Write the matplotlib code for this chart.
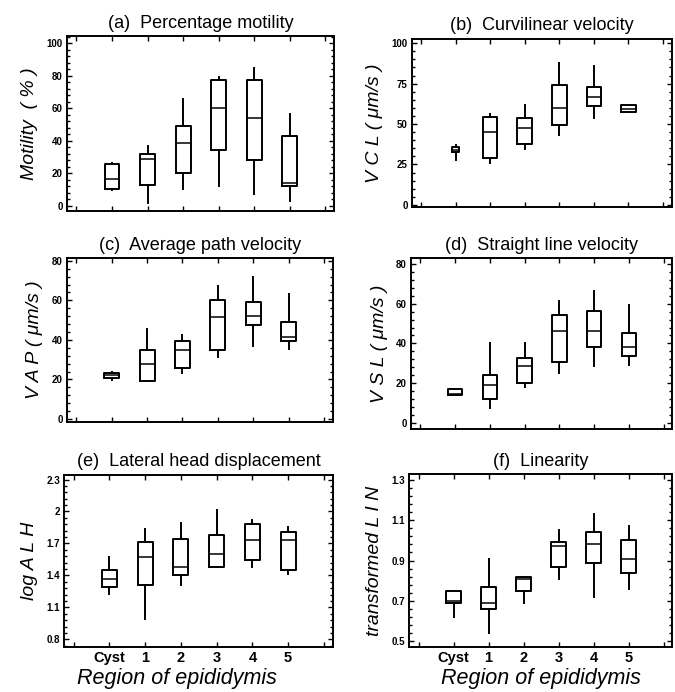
import matplotlib
matplotlib.use("Agg")
import matplotlib.pyplot as plt
from matplotlib.ticker import AutoMinorLocator

plt.rcParams['font.family'] = ['Liberation Sans', 'DejaVu Sans']

regions = ["Cyst", "1", "2", "3", "4", "5"]

# box values: whisker low, q1, median, q3, whisker high
mot_lo = [9.3, 1.4, 10.3, 12.2, 7.0, 3.0]
mot_q1 = [10.3, 12.4, 20.0, 34.4, 28.2, 11.8]
mot_med = [16.5, 28.7, 38.4, 60.0, 54.0, 13.8]
mot_q3 = [25.6, 32.0, 49.0, 77.5, 77.5, 42.7]
mot_hi = [26.0, 37.0, 66.0, 79.0, 85.0, 56.5]

vcl_lo = [27.7, 26.2, 34.6, 43.0, 54.0, 57.6]
vcl_q1 = [32.4, 29.0, 37.7, 49.4, 61.3, 57.6]
vcl_med = [34.2, 45.0, 47.3, 60.0, 66.8, 59.5]
vcl_q3 = [36.0, 54.5, 54.0, 74.2, 73.0, 62.0]
vcl_hi = [37.3, 56.4, 62.0, 87.5, 86.0, 62.0]

vap_lo = [19.8, 19.0, 23.1, 31.5, 37.1, 35.6]
vap_q1 = [20.8, 19.0, 26.0, 34.7, 47.5, 39.3]
vap_med = [22.0, 27.7, 35.1, 51.6, 52.1, 41.6]
vap_q3 = [23.1, 34.7, 39.3, 60.4, 59.4, 49.3]
vap_hi = [23.9, 45.4, 42.6, 67.3, 72.0, 63.4]

vsl_lo = [13.9, 7.3, 18.0, 25.1, 28.8, 28.9]
vsl_q1 = [13.9, 12.2, 20.2, 30.4, 38.3, 33.4]
vsl_med = [14.3, 19.2, 28.4, 46.1, 46.3, 38.3]
vsl_q3 = [16.9, 24.1, 32.4, 54.2, 56.2, 45.1]
vsl_hi = [16.9, 40.0, 40.0, 61.5, 66.4, 59.3]

alh_lo = [1.23, 0.99, 1.31, 1.48, 1.48, 1.41]
alh_q1 = [1.29, 1.31, 1.40, 1.48, 1.54, 1.45]
alh_med = [1.37, 1.57, 1.48, 1.60, 1.73, 1.73]
alh_q3 = [1.45, 1.71, 1.74, 1.78, 1.88, 1.81]
alh_hi = [1.57, 1.84, 1.89, 2.01, 1.92, 1.85]

lin_lo = [0.62, 0.54, 0.69, 0.81, 0.72, 0.76]
lin_q1 = [0.69, 0.66, 0.75, 0.87, 0.89, 0.84]
lin_med = [0.70, 0.69, 0.81, 0.97, 0.98, 0.91]
lin_q3 = [0.75, 0.77, 0.82, 0.99, 1.04, 1.00]
lin_hi = [0.75, 0.91, 0.82, 1.05, 1.13, 1.07]

# title, y label, ticks, tick labels, data, axes rect, (bottom, top) padding in tick steps
panels = [
    ("(a)  Percentage motility", "Motility  ( % )", [0, 20, 40, 60, 80, 100], ["0", "20", "40", "60", "80", "100"],
     (mot_lo, mot_q1, mot_med, mot_q3, mot_hi), [0.099, 0.695, 0.396, 0.253], (0.17, 0.23)),
    ("(b)  Curvilinear velocity", "V C L ( \u03bcm/s )", [0, 25, 50, 75, 100], ["0", "25", "50", "75", "100"],
     (vcl_lo, vcl_q1, vcl_med, vcl_q3, vcl_hi), [0.610, 0.701, 0.385, 0.243], (0.05, 0.11)),
    ("(c)  Average path velocity", "V A P ( \u03bcm/s )", [0, 20, 40, 60, 80], ["0", "20", "40", "60", "80"],
     (vap_lo, vap_q1, vap_med, vap_q3, vap_hi), [0.099, 0.390, 0.394, 0.237], (0.08, 0.07)),
    ("(d)  Straight line velocity", "V S L ( \u03bcm/s )", [0, 20, 40, 60, 80], ["0", "20", "40", "60", "80"],
     (vsl_lo, vsl_q1, vsl_med, vsl_q3, vsl_hi), [0.609, 0.380, 0.387, 0.247], (0.16, 0.15)),
    ("(e)  Lateral head displacement", "log A L H", [0.8, 1.1, 1.4, 1.7, 2.0, 2.3], ["0.8", "1.1", "1.4", "1.7", "2", "2.3"],
     (alh_lo, alh_q1, alh_med, alh_q3, alh_hi), [0.095, 0.065, 0.398, 0.249], (0.24, 0.15)),
    ("(f)  Linearity", "transformed L I N", [0.5, 0.7, 0.9, 1.1, 1.3], ["0.5", "0.7", "0.9", "1.1", "1.3"],
     (lin_lo, lin_q1, lin_med, lin_q3, lin_hi), [0.606, 0.065, 0.390, 0.250], (0.15, 0.15)),
]

fig = plt.figure(figsize=(6.75, 6.92), dpi=100)

for i, (title, ylab, yt, ytl, vals, pos, pad) in enumerate(panels):
    ax = fig.add_axes(pos)
    lo, q1, med, q3, hi = vals
    stats = []
    for j in range(len(regions)):
        stats.append(dict(whislo=lo[j], q1=q1[j], med=med[j], q3=q3[j], whishi=hi[j], label=regions[j]))
    widths = [0.42] * 6
    if i == 1:
        widths[0] = 0.22
    lw = 1.4
    ax.bxp(stats, positions=range(1, 7), widths=widths, showcaps=False, showfliers=False,
           boxprops=dict(color="black", linewidth=lw),
           whiskerprops=dict(color="black", linewidth=lw),
           medianprops=dict(color="black", linewidth=1.1))
    d = yt[1] - yt[0]
    ax.set_ylim(yt[0] - pad[0] * d, yt[-1] + pad[1] * d)
    ax.set_xlim(-0.27, 7.25)
    ax.set_yticks(yt)
    ax.set_yticklabels(ytl, fontsize=7, fontweight="bold")
    ax.yaxis.set_minor_locator(AutoMinorLocator(5))
    ax.set_xticks(range(0, 8))
    if i >= 4:
        ax.set_xticklabels([""] + regions + [""], fontsize=10.5, fontweight="bold")
        ax.set_xlabel("Region of epididymis", fontsize=15.5, style="italic", labelpad=2)
        if i == 4:
            ax.xaxis.set_label_coords(0.42, -0.12)
    else:
        ax.set_xticklabels([])
    ax.tick_params(which="both", direction="in", top=True, right=True, width=1.0)
    ax.tick_params(which="major", length=3.5, pad=3)
    ax.tick_params(which="minor", length=2)
    for s in ax.spines.values():
        s.set_linewidth(1.4)
    ax.set_title(title, fontsize=13, pad=6)
    ax.set_ylabel(ylab, fontsize=14, style="italic", labelpad=6)

fig.savefig("out.png", dpi=100)
